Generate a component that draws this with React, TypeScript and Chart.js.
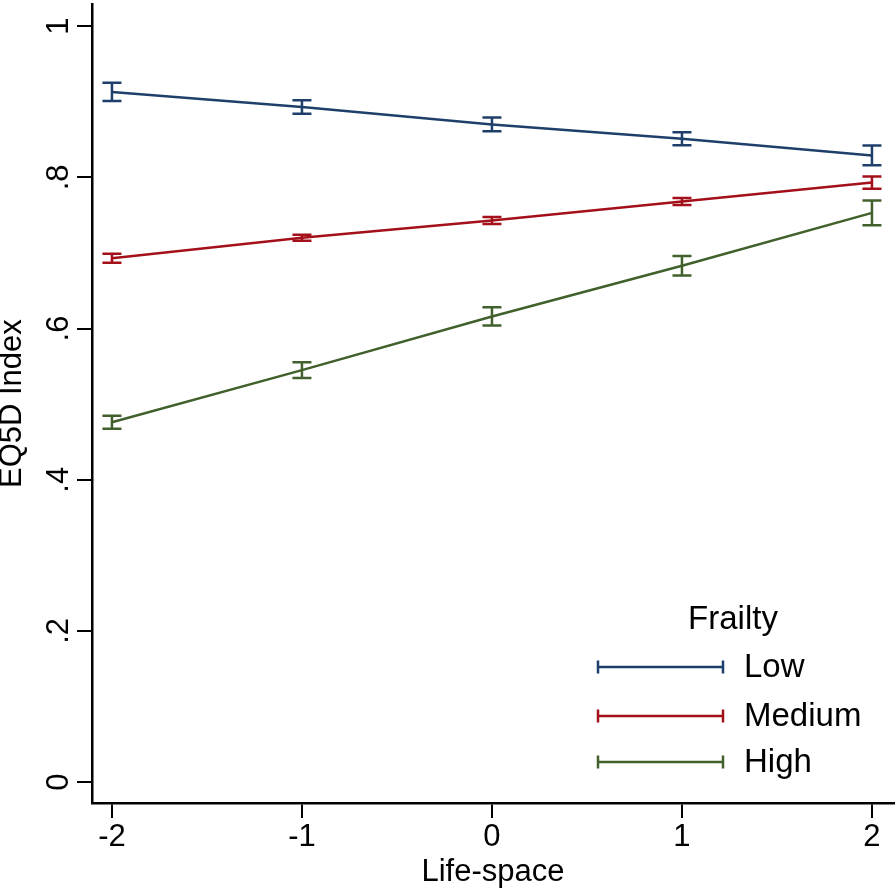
import React, { useEffect, useRef } from "react";
import { Chart, registerables } from "chart.js";

Chart.register(...registerables);

const xValues = [-2, -1, 0, 1, 2];
const yTickValues = [0, 0.2, 0.4, 0.6, 0.8, 1];
const yTickLabels = ["0", ".2", ".4", ".6", ".8", "1"];
const seriesNames = ["Low", "Medium", "High"];
const lowMean = [0.913, 0.893, 0.87, 0.851, 0.829];
const lowErr = [0.012, 0.009, 0.009, 0.0085, 0.013];
const medMean = [0.693, 0.72, 0.743, 0.768, 0.793];
const medErr = [0.006, 0.004, 0.0046, 0.0046, 0.008];
const highMean = [0.476, 0.545, 0.616, 0.683, 0.753];
const highErr = [0.0085, 0.0105, 0.012, 0.013, 0.0165];
const colors = ["#1f3f6b", "#a3101a", "#41602c"];
const legendTitle = "Frailty";
const xTitle = "Life-space";
const yTitle = "EQ5D Index";

const FONT = "'Liberation Sans', Arial, Helvetica, sans-serif";

export default function App() {
  const ref = useRef<HTMLCanvasElement | null>(null);

  useEffect(() => {
    document.body.style.margin = "0";
    const canvas = ref.current;
    if (!canvas) return;
    const means = [lowMean, medMean, highMean];
    const errs = [lowErr, medErr, highErr];

    const errorBarPlugin = {
      id: "errorBars",
      afterDatasetsDraw(chart: any) {
        const ctx = chart.ctx;
        const xs = chart.scales.x;
        const ys = chart.scales.y;
        ctx.save();
        means.forEach((m, si) => {
          ctx.strokeStyle = colors[si];
          ctx.lineWidth = 2.5;
          m.forEach((v, i) => {
            const px = xs.getPixelForValue(xValues[i]);
            const top = ys.getPixelForValue(v + errs[si][i]);
            const bot = ys.getPixelForValue(v - errs[si][i]);
            ctx.beginPath();
            ctx.moveTo(px, top);
            ctx.lineTo(px, bot);
            ctx.moveTo(px - 9.5, top);
            ctx.lineTo(px + 9.5, top);
            ctx.moveTo(px - 9.5, bot);
            ctx.lineTo(px + 9.5, bot);
            ctx.stroke();
          });
        });
        ctx.restore();
      },
    };

    const yLabelPlugin = {
      id: "yLabels",
      afterDraw(chart: any) {
        const ctx = chart.ctx;
        const ys = chart.scales.y;
        ctx.save();
        ctx.fillStyle = "#000";
        ctx.font = `31px ${FONT}`;
        ctx.textAlign = "center";
        ctx.textBaseline = "alphabetic";
        yTickValues.forEach((v, i) => {
          const py = ys.getPixelForValue(v);
          ctx.save();
          ctx.translate(68, py);
          ctx.rotate(-Math.PI / 2);
          ctx.fillText(yTickLabels[i], 0, 0);
          ctx.restore();
        });
        ctx.restore();
      },
    };

    const legendPlugin = {
      id: "customLegend",
      afterDraw(chart: any) {
        const ctx = chart.ctx;
        ctx.save();
        ctx.fillStyle = "#000";
        ctx.font = `33px ${FONT}`;
        ctx.textAlign = "center";
        ctx.textBaseline = "middle";
        ctx.fillText(legendTitle, 733, 620);
        const rows = [667, 716, 762];
        seriesNames.forEach((name, i) => {
          const y = rows[i];
          ctx.strokeStyle = colors[i];
          ctx.lineWidth = 2.5;
          ctx.beginPath();
          ctx.moveTo(598, y);
          ctx.lineTo(723, y);
          ctx.moveTo(598, y - 6.5);
          ctx.lineTo(598, y + 6.5);
          ctx.moveTo(723, y - 6.5);
          ctx.lineTo(723, y + 6.5);
          ctx.stroke();
          ctx.fillStyle = "#000";
          ctx.textAlign = "left";
          ctx.fillText(name, 744, y + 1);
        });
        ctx.restore();
      },
    };

    const chart = new Chart(canvas, {
      type: "line",
      data: {
        datasets: means.map((m, si) => ({
          label: seriesNames[si],
          data: m.map((v, i) => ({ x: xValues[i], y: v })),
          borderColor: colors[si],
          backgroundColor: colors[si],
          borderWidth: 2.5,
          pointRadius: 0,
          tension: 0,
          fill: false,
        })),
      },
      options: {
        animation: false,
        responsive: false,
        maintainAspectRatio: false,
        layout: { padding: { left: 0, right: 2, top: 0, bottom: 0 } },
        plugins: { legend: { display: false }, tooltip: { enabled: false } },
        scales: {
          x: {
            type: "linear",
            min: -2.105,
            max: 2.116,
            afterBuildTicks(scale: any) {
              scale.ticks = xValues.map((v) => ({ value: v }));
            },
            afterFit(scale: any) {
              scale.height = 87;
            },
            border: { display: true, color: "#000", width: 2.5 },
            grid: {
              drawOnChartArea: false,
              drawTicks: true,
              tickLength: 15,
              tickColor: "#000",
              lineWidth: 2,
            },
            ticks: {
              color: "#000",
              font: { family: FONT, size: 31 },
              padding: 1,
              maxRotation: 0,
              minRotation: 0,
              callback: (v: any) => String(v),
            },
            title: {
              display: true,
              text: xTitle,
              color: "#000",
              font: { family: FONT, size: 31, lineHeight: 1.1 },
              padding: 0,
            },
          },
          y: {
            type: "linear",
            min: -0.0276,
            max: 1.029,
            afterBuildTicks(scale: any) {
              scale.ticks = yTickValues.map((v) => ({ value: v }));
            },
            afterFit(scale: any) {
              scale.width = 92;
            },
            border: { display: true, color: "#000", width: 2.5 },
            grid: {
              drawOnChartArea: false,
              drawTicks: true,
              tickLength: 15,
              tickColor: "#000",
              lineWidth: 2,
            },
            ticks: {
              display: true,
              color: "rgba(0,0,0,0)",
              font: { family: FONT, size: 2 },
              callback: () => "",
            },
            title: {
              display: true,
              text: yTitle,
              color: "#000",
              font: { family: FONT, size: 31, lineHeight: 0.8 },
              padding: 0,
            },
          },
        },
      },
      plugins: [errorBarPlugin, yLabelPlugin, legendPlugin],
    });
    return () => chart.destroy();
  }, []);

  return (
    <div style={{ width: 896, height: 890, background: "#fff" }}>
      <canvas ref={ref} width={896} height={890} style={{ display: "block" }} />
    </div>
  );
}
